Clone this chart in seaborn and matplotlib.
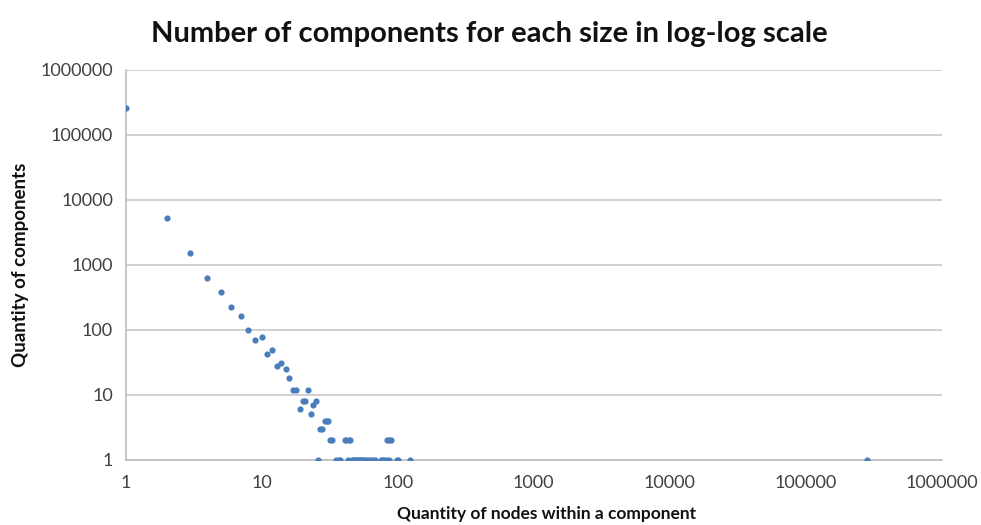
import matplotlib
matplotlib.use("Agg")
import matplotlib.pyplot as plt
import matplotlib.ticker as mticker
import pandas as pd
import seaborn as sns

# component size -> number of components of that size
sizes = [1, 2, 3, 4, 5, 6, 7, 8, 9, 10,
         11, 12, 13, 14, 15, 16, 17, 18, 19, 20,
         21, 22, 23, 24, 25, 26, 27, 28, 29, 30,
         31, 32, 33, 35, 37, 38, 41, 42, 43, 44,
         45, 46, 47, 48, 49, 50, 51, 52, 53, 54,
         55, 56, 58, 60, 62, 64, 66, 68, 76, 78,
         80, 83, 84, 86, 87, 89, 99, 101, 123, 284000]
counts = [260000, 5300, 1520, 624, 380, 226, 166, 100, 70, 79,
          43, 49, 28, 31, 25, 18, 12, 12, 6, 8,
          8, 12, 5, 7, 8, 1, 3, 3, 4, 4,
          4, 2, 2, 1, 1, 1, 2, 2, 1, 2,
          2, 1, 1, 1, 1, 1, 1, 1, 1, 1,
          1, 1, 1, 1, 1, 1, 1, 1, 1, 1,
          1, 2, 1, 2, 1, 2, 1, 1, 1, 1]

title = "Number of components for each size in log-log scale"
xlabel = "Quantity of nodes within a component"
ylabel = "Quantity of components"

df = pd.DataFrame({"size": sizes, "count": counts})

sns.set_style("white")
plt.rcParams["font.family"] = ["Lato", "DejaVu Sans"]

fig = plt.figure(figsize=(9.81, 5.25), dpi=100)
ax = fig.add_axes([0.128, 0.124, 0.832, 0.743])

sns.scatterplot(data=df, x="size", y="count", ax=ax, color="#4a7ebb",
                s=20, linewidth=0, zorder=3)

ax.set_xscale("log")
ax.set_yscale("log")
ax.set_xlim(1, 1e6)
ax.set_ylim(1, 1e6)

fmt = mticker.FuncFormatter(lambda v, p: "%d" % round(v))
ax.xaxis.set_major_locator(mticker.LogLocator(base=10, numticks=10))
ax.yaxis.set_major_locator(mticker.LogLocator(base=10, numticks=10))
ax.xaxis.set_minor_locator(mticker.NullLocator())
ax.yaxis.set_minor_locator(mticker.NullLocator())
ax.xaxis.set_major_formatter(fmt)
ax.yaxis.set_major_formatter(fmt)

ax.grid(axis="y", color="#c8c8c8", linewidth=1.2)
ax.grid(axis="x", visible=False)
ax.set_axisbelow(True)

for side in ["top", "right"]:
    ax.spines[side].set_visible(False)
for side in ["left", "bottom"]:
    ax.spines[side].set_color("#bdbdbd")
    ax.spines[side].set_linewidth(1.2)

ax.tick_params(axis="both", direction="out", length=5, width=1,
               color="#bdbdbd", labelsize=13, labelcolor="#404040")
ax.tick_params(axis="x", pad=6)
ax.tick_params(axis="y", pad=4)

# title sits centred on the figure, not on the plot area
ax.set_title(title, fontsize=21, fontweight="bold", color="#111111", pad=20, x=0.446)
ax.set_xlabel(xlabel, fontsize=12.5, fontweight="bold", color="#111111",
              labelpad=11, x=0.516)
ax.set_ylabel(ylabel, fontsize=13.5, fontweight="bold", color="#111111", labelpad=8)

fig.savefig("out.png", dpi=100)
